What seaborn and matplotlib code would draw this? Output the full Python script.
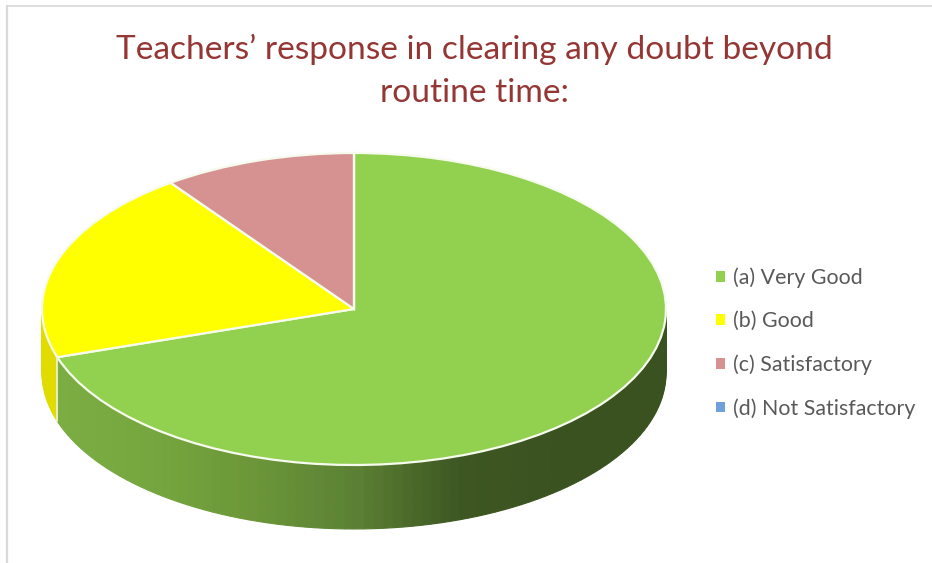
import numpy as np
import matplotlib
matplotlib.use("Agg")
import matplotlib.pyplot as plt
from matplotlib.lines import Line2D
from matplotlib.patches import Patch
import seaborn as sns

title = "Teachers\u2019 response in clearing any doubt beyond\nroutine time:"
labels = ["(a) Very Good", "(b) Good", "(c) Satisfactory", "(d) Not Satisfactory"]
shares = [70, 20, 10, 0]
colors = ["#92d050", "#ffff00", "#d59290", "#6fa0dc"]
side_yellow = "#e0dc00"
side_stops = ["#7dae44", "#76a73f", "#6c9739", "#5c8034", "#3d5722", "#3a5220", "#3a5220"]

sns.set_theme(style="white")
plt.rcParams["font.family"] = ["Lato", "DejaVu Sans"]

fig, ax = plt.subplots(figsize=(9.32, 5.63), dpi=100)
fig.subplots_adjust(left=0, right=1, top=1, bottom=0)

# side of the pie: stacked pies going down, green slice cut up for the shading
depth = 0.41
n_fine = 140
shade = sns.blend_palette(side_stops, 256)
green_end = shares[0] / sum(shares)
mids = (np.arange(n_fine) + 0.5) / n_fine * green_end * 2 * np.pi
fine_colors = [shade[int((np.sin(m) + 1) / 2 * 255)] for m in mids]
side_values = [shares[0] / n_fine] * n_fine + shares[1:3]
side_colors = fine_colors + [side_yellow, colors[2]]

for d in np.linspace(depth, 0.01, 34):
    wedges, _ = ax.pie(side_values, colors=side_colors, startangle=90, counterclock=False,
                       center=(0, -d), radius=1)
    for w in wedges:
        w.set_edgecolor(w.get_facecolor())
        w.set_linewidth(0.8)

# top of the pie
ax.pie(shares, colors=colors, startangle=90, counterclock=False,
       wedgeprops=dict(linewidth=1.6, edgecolor="#f6fbee"))

# seam between yellow and green on the side
seam_x = np.sin(green_end * 2 * np.pi)
seam_y = np.cos(green_end * 2 * np.pi)
ax.plot([seam_x, seam_x], [seam_y, seam_y - depth], color="#eef3e0", lw=1.2)

ax.set_aspect("auto")
ax.set_xlim(-354 / 312, 578 / 312)
ax.set_ylim(-254 / 156, 309 / 156)
ax.axis("off")

fig.text(474.5 / 932, 1 - 71 / 563, title, ha="center", va="center",
         fontsize=24.1, color="#943634", linespacing=1.52)

handles = [Patch(facecolor=c, linewidth=0) for c in colors]
ax.legend(handles, labels, loc="center left", bbox_to_anchor=(708 / 932, 1 - 343 / 563),
          frameon=False, fontsize=15.4, labelcolor="#595959",
          handlelength=0.4, handleheight=0.4, handletextpad=0.38,
          labelspacing=1.085, borderpad=0, borderaxespad=0.38)

# thin frame at left and top
frame = "#d9d9d9"
fig.add_artist(Line2D([7 / 932, 7 / 932], [0, 1 - 6 / 563], color=frame, lw=1.6))
fig.add_artist(Line2D([7 / 932, 1], [1 - 6 / 563, 1 - 6 / 563], color=frame, lw=1.2))

fig.savefig("out.png", dpi=100)
